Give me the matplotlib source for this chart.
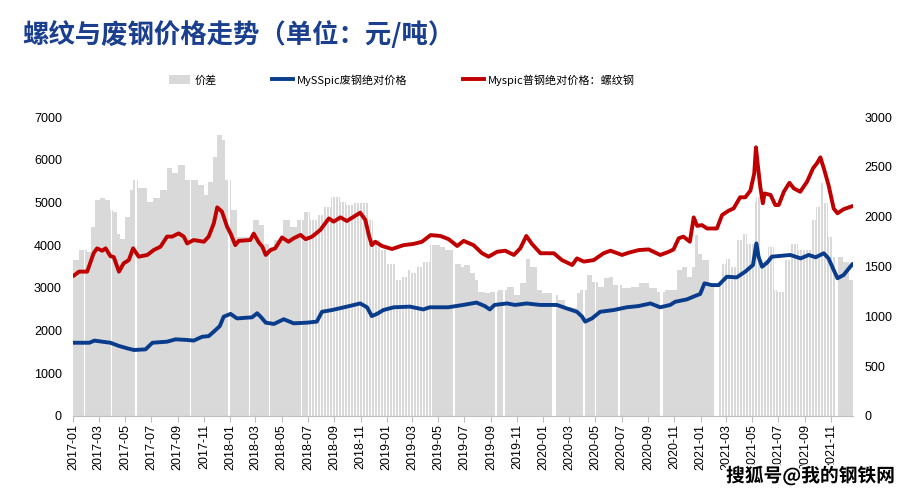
import matplotlib

matplotlib.use("Agg")

import matplotlib.dates as mdates
import matplotlib.patheffects as pe
import matplotlib.pyplot as plt
import numpy as np
import pandas as pd
from matplotlib.lines import Line2D
from matplotlib.patches import Patch

plt.rcParams["font.family"] = ["Liberation Sans", "Noto Sans CJK SC", "DejaVu Sans"]

# Myspic 普钢绝对价格：螺纹钢 (left axis, 元/吨)
REBAR_DATES = [
    "2017-01-01", "2017-01-14", "2017-02-02", "2017-02-17", "2017-02-25", "2017-03-09",
    "2017-03-17", "2017-03-28", "2017-04-05", "2017-04-17", "2017-04-28", "2017-05-10",
    "2017-05-20", "2017-06-02", "2017-06-22", "2017-07-07", "2017-07-23", "2017-08-07",
    "2017-08-19", "2017-09-03", "2017-09-15", "2017-09-23", "2017-10-08", "2017-11-01",
    "2017-11-12", "2017-11-24", "2017-12-02", "2017-12-13", "2017-12-25", "2018-01-02",
    "2018-01-13", "2018-01-21", "2018-02-17", "2018-02-25", "2018-03-09", "2018-03-17",
    "2018-03-25", "2018-04-05", "2018-04-16", "2018-05-02", "2018-05-17", "2018-05-29",
    "2018-06-14", "2018-06-26", "2018-07-11", "2018-07-30", "2018-08-19", "2018-08-30",
    "2018-09-15", "2018-09-30", "2018-10-16", "2018-10-31", "2018-11-12", "2018-11-20",
    "2018-11-27", "2018-12-05", "2018-12-21", "2019-01-13", "2019-02-09", "2019-03-05",
    "2019-03-24", "2019-04-13", "2019-05-06", "2019-05-25", "2019-06-14", "2019-06-29",
    "2019-07-22", "2019-08-11", "2019-08-26", "2019-09-15", "2019-10-04", "2019-10-24",
    "2019-11-08", "2019-11-22", "2019-12-05", "2019-12-25", "2020-01-25", "2020-02-13",
    "2020-03-08", "2020-03-19", "2020-04-04", "2020-04-27", "2020-05-20", "2020-06-05",
    "2020-07-02", "2020-07-18", "2020-08-10", "2020-09-02", "2020-09-29", "2020-10-19",
    "2020-10-30", "2020-11-11", "2020-11-22", "2020-12-07", "2020-12-16", "2020-12-24",
    "2021-01-04", "2021-01-16", "2021-02-08", "2021-02-20", "2021-03-07", "2021-03-19",
    "2021-04-03", "2021-04-15", "2021-04-27", "2021-05-06", "2021-05-10", "2021-05-14",
    "2021-05-20", "2021-05-26", "2021-05-30", "2021-06-13", "2021-06-24", "2021-07-02",
    "2021-07-14", "2021-07-27", "2021-08-06", "2021-08-21", "2021-09-06", "2021-09-20",
    "2021-09-29", "2021-10-07", "2021-10-15", "2021-10-26", "2021-11-07", "2021-11-16",
    "2021-11-30", "2021-12-21",
]
REBAR_PRICE = [
    3280, 3380, 3380, 3810, 3925, 3870, 3925, 3745, 3720, 3380, 3575, 3650,
    3925, 3730, 3770, 3885, 3965, 4200, 4200, 4275, 4200, 4040, 4120, 4080,
    4200, 4510, 4885, 4785, 4430, 4275, 4000, 4100, 4120, 4270, 4060, 3965,
    3770, 3885, 3925, 4180, 4080, 4160, 4240, 4140, 4200, 4355, 4625, 4550,
    4650, 4565, 4665, 4760, 4590, 4240, 4000, 4080, 3980, 3910, 4000, 4030,
    4080, 4235, 4215, 4140, 3980, 4100, 4000, 3810, 3730, 3845, 3870, 3770,
    3925, 4215, 4030, 3810, 3810, 3650, 3535, 3690, 3615, 3650, 3810, 3870,
    3770, 3825, 3885, 3900, 3770, 3845, 3900, 4160, 4200, 4080, 4650, 4450,
    4470, 4390, 4390, 4705, 4805, 4860, 5120, 5120, 5275, 5680, 6290, 5900,
    5370, 4980, 5210, 5175, 4940, 4940, 5250, 5460, 5330, 5250, 5485, 5800,
    5915, 6055, 5800, 5410, 4860, 4745, 4840, 4915,
]

# MySSpic 废钢绝对价格 (left axis, 元/吨)
SCRAP_DATES = [
    "2017-01-01", "2017-02-07", "2017-02-19", "2017-03-09", "2017-03-28", "2017-04-17",
    "2017-05-06", "2017-05-22", "2017-06-18", "2017-07-04", "2017-08-07", "2017-08-27",
    "2017-09-23", "2017-10-08", "2017-10-28", "2017-11-12", "2017-11-24", "2017-12-08",
    "2017-12-17", "2018-01-02", "2018-01-17", "2018-02-21", "2018-03-05", "2018-03-13",
    "2018-03-25", "2018-04-13", "2018-05-06", "2018-05-29", "2018-06-29", "2018-07-22",
    "2018-08-03", "2018-08-26", "2018-09-30", "2018-10-31", "2018-11-16", "2018-11-27",
    "2018-12-09", "2018-12-24", "2019-01-17", "2019-02-24", "2019-03-27", "2019-04-11",
    "2019-05-24", "2019-06-28", "2019-07-29", "2019-08-17", "2019-08-29", "2019-09-09",
    "2019-10-08", "2019-10-27", "2019-11-23", "2019-12-24", "2020-02-01", "2020-02-24",
    "2020-03-19", "2020-03-31", "2020-04-07", "2020-04-23", "2020-05-12", "2020-06-12",
    "2020-07-13", "2020-08-10", "2020-09-06", "2020-09-29", "2020-10-22", "2020-11-03",
    "2020-11-30", "2020-12-24", "2020-12-31", "2021-01-10", "2021-01-27", "2021-02-12",
    "2021-03-03", "2021-03-26", "2021-04-15", "2021-05-03", "2021-05-11", "2021-05-16",
    "2021-05-24", "2021-06-05", "2021-06-16", "2021-07-29", "2021-08-22", "2021-09-10",
    "2021-09-26", "2021-10-15", "2021-10-26", "2021-11-07", "2021-11-16", "2021-11-30",
    "2021-12-21",
]
SCRAP_PRICE = [
    1715, 1715, 1765, 1740, 1715, 1640, 1585, 1545, 1560, 1715, 1740, 1795,
    1780, 1765, 1855, 1870, 1975, 2105, 2325, 2390, 2285, 2310, 2405, 2325,
    2185, 2155, 2265, 2170, 2185, 2210, 2440, 2480, 2560, 2635, 2545, 2340,
    2390, 2480, 2545, 2560, 2495, 2545, 2545, 2600, 2655, 2575, 2495, 2600,
    2635, 2600, 2635, 2600, 2600, 2520, 2440, 2325, 2210, 2285, 2440, 2480,
    2545, 2575, 2635, 2545, 2600, 2675, 2730, 2830, 2855, 3105, 3065, 3065,
    3260, 3245, 3380, 3535, 4040, 3730, 3495, 3590, 3730, 3770, 3690, 3770,
    3715, 3810, 3690, 3420, 3225, 3300, 3560,
]

# 价差 (right axis, 元/吨)
SPREAD_DATES = [
    "2017-01-01", "2017-01-14", "2017-02-02", "2017-02-12", "2017-02-20", "2017-03-04",
    "2017-03-16", "2017-03-27", "2017-04-04", "2017-04-12", "2017-04-20", "2017-05-01",
    "2017-05-13", "2017-05-19", "2017-06-01", "2017-06-21", "2017-07-06", "2017-07-22",
    "2017-08-06", "2017-08-18", "2017-09-02", "2017-09-18", "2017-10-07", "2017-10-19",
    "2017-10-31", "2017-11-11", "2017-11-23", "2017-12-01", "2017-12-12", "2017-12-20",
    "2018-01-02", "2018-01-16", "2018-02-09", "2018-02-24", "2018-03-09", "2018-03-20",
    "2018-04-01", "2018-04-14", "2018-05-05", "2018-05-21", "2018-06-05", "2018-06-21",
    "2018-07-06", "2018-07-22", "2018-08-06", "2018-08-25", "2018-09-14", "2018-09-29",
    "2018-10-15", "2018-11-03", "2018-11-18", "2018-11-30", "2018-12-16", "2018-12-31",
    "2019-01-20", "2019-02-04", "2019-02-16", "2019-02-27", "2019-03-11", "2019-03-26",
    "2019-04-11", "2019-05-04", "2019-05-16", "2019-06-08", "2019-06-24", "2019-07-01",
    "2019-07-13", "2019-07-25", "2019-08-02", "2019-08-17", "2019-08-29", "2019-09-17",
    "2019-10-08", "2019-10-24", "2019-11-08", "2019-11-22", "2019-12-01", "2019-12-17",
    "2019-12-28", "2020-01-20", "2020-02-03", "2020-02-21", "2020-03-08", "2020-03-19",
    "2020-03-27", "2020-04-11", "2020-04-23", "2020-05-08", "2020-05-20", "2020-06-01",
    "2020-06-12", "2020-07-03", "2020-07-22", "2020-08-10", "2020-09-02", "2020-09-21",
    "2020-10-09", "2020-10-22", "2020-11-07", "2020-11-18", "2020-11-30", "2020-12-11",
    "2020-12-19", "2020-12-27", "2021-01-04", "2021-01-20", "2021-02-05", "2021-02-18",
    "2021-03-01", "2021-03-12", "2021-03-27", "2021-04-08", "2021-04-19", "2021-05-05",
    "2021-05-11", "2021-05-21", "2021-06-06", "2021-06-22", "2021-06-29", "2021-07-15",
    "2021-07-30", "2021-08-15", "2021-08-30", "2021-09-15", "2021-09-27", "2021-10-08",
    "2021-10-16", "2021-10-24", "2021-11-05", "2021-11-18", "2021-11-29", "2021-12-12",
]
SPREAD_VALUE = [
    1570, 1665, 1650, 1900, 2165, 2190, 2165, 2065, 2050, 1830, 1780, 2000,
    2265, 2365, 2285, 2150, 2185, 2265, 2485, 2435, 2515, 2365, 2365, 2315,
    2215, 2350, 2600, 2820, 2770, 2365, 2065, 1800, 1800, 1965, 1915, 1730,
    1700, 1765, 1965, 1900, 1965, 2050, 1965, 2015, 2100, 2200, 2150, 2115,
    2135, 2135, 1965, 1765, 1665, 1530, 1365, 1395, 1465, 1430, 1500, 1550,
    1715, 1700, 1665, 1530, 1500, 1515, 1430, 1365, 1245, 1230, 1245, 1265,
    1295, 1215, 1330, 1580, 1500, 1265, 1230, 1215, 1165, 1095, 1080, 1230,
    1265, 1415, 1345, 1295, 1380, 1395, 1315, 1280, 1295, 1330, 1280, 1245,
    1265, 1265, 1465, 1500, 1395, 1500, 1815, 1630, 1565, 1300, 1300, 1530,
    1580, 1500, 1765, 1830, 1730, 2150, 2200, 1565, 1700, 1265, 1245, 1565,
    1730, 1665, 1665, 1965, 2100, 2335, 2135, 1800, 1600, 1600, 1550, 1365,
]
SPREAD_END = "2021-12-22"

# days without quotes (holidays) and weekly-quote stretches in the spread series
HOLIDAY_GAPS = [
    ("2017-01-25", "2017-01-29"), ("2017-03-30", "2017-04-02"), ("2017-05-25", "2017-05-29"),
    ("2017-09-29", "2017-10-03"), ("2017-12-27", "2017-12-31"), ("2018-02-13", "2018-02-17"),
    ("2018-04-01", "2018-04-05"), ("2018-06-14", "2018-06-18"), ("2019-06-04", "2019-06-08"),
    ("2019-09-11", "2019-09-15"), ("2019-09-28", "2019-10-03"), ("2020-01-21", "2020-01-31"),
    ("2020-04-02", "2020-04-06"), ("2020-04-29", "2020-05-03"), ("2020-06-23", "2020-06-27"),
    ("2020-09-29", "2020-10-05"), ("2021-02-02", "2021-02-14"), ("2021-11-12", "2021-11-16"),
]
WEEKLY_PERIODS = [("2018-07-01", "2019-04-20"), ("2021-02-18", "2021-11-12")]

X_TICKS = pd.date_range("2017-01-01", "2021-11-01", freq="2MS")

GRAY = "#D9D9D9"
BLUE = "#0A3C8C"
RED = "#C00000"
TITLE_BLUE = "#1B3F8F"
CJK = ["Noto Sans CJK SC", "DejaVu Sans"]

fig = plt.figure(figsize=(9.16, 4.96), dpi=100)
ax = fig.add_axes([0.0797, 0.1613, 0.8515, 0.6028])
ax2 = ax.twinx()
# lines axis above the bar axis
ax.set_zorder(ax2.get_zorder() + 1)
ax.patch.set_visible(False)

# spread bars, each bar runs up to the next reading
spread_x = mdates.date2num(pd.to_datetime(SPREAD_DATES))
widths = np.diff(np.append(spread_x, mdates.date2num(pd.Timestamp(SPREAD_END))))
ax2.bar(spread_x, SPREAD_VALUE, width=widths, align="edge", color=GRAY, linewidth=0)
for start, end in HOLIDAY_GAPS:
    ax2.axvspan(pd.Timestamp(start), pd.Timestamp(end), color="white", linewidth=0)
for start, end in WEEKLY_PERIODS:
    for d in pd.date_range(start, end, freq="7D"):
        ax2.axvline(d, color="white", linewidth=0.7)

ax.plot(pd.to_datetime(SCRAP_DATES), SCRAP_PRICE, color=BLUE, linewidth=2.8,
        solid_joinstyle="round", solid_capstyle="round")
ax.plot(pd.to_datetime(REBAR_DATES), REBAR_PRICE, color=RED, linewidth=2.8,
        solid_joinstyle="round", solid_capstyle="round")

ax.set_xlim(pd.Timestamp("2016-12-31"), pd.Timestamp(SPREAD_END))
ax.set_ylim(0, 7000)
ax2.set_ylim(0, 3000)
ax.set_yticks(range(0, 7001, 1000))
ax2.set_yticks(range(0, 3001, 500))

ax.set_xticks(X_TICKS)
ax.set_xticklabels([d.strftime("%Y-%m") for d in X_TICKS], rotation=90, fontsize=9)
ax.tick_params(axis="x", length=4, color="#BFBFBF", pad=2)
ax.tick_params(axis="y", length=0, pad=8, labelsize=9)
ax2.tick_params(axis="y", length=0, pad=8, labelsize=9)

for a in (ax, ax2):
    for side in ("top", "left", "right"):
        a.spines[side].set_visible(False)
ax2.spines["bottom"].set_visible(False)
ax.spines["bottom"].set_color("#BFBFBF")

fig.text(0.024, 0.929, "螺纹与废钢价格走势（单位：元/吨）", fontsize=19, fontweight="bold",
         color=TITLE_BLUE, family=CJK, va="center", ha="left")

handles = [
    Patch(facecolor=GRAY, edgecolor="none"),
    Line2D([], [], color=BLUE, linewidth=2.8),
    Line2D([], [], color=RED, linewidth=2.8),
]
labels = ["价差", "MySSpic废钢绝对价格", "Myspic普钢绝对价格：螺纹钢"]
fig.legend(handles, labels, loc="center left", bbox_to_anchor=(0.174, 0.839), ncol=3,
           frameon=False, prop={"family": CJK, "size": 8}, handlelength=1.9,
           handleheight=0.9, handletextpad=0.35, columnspacing=5.0)

fig.text(0.977, 0.04, "搜狐号@我的钢铁网", fontsize=13.5, fontweight="bold", color="black",
         family=CJK, ha="right", va="center",
         path_effects=[pe.withStroke(linewidth=3, foreground="white")])

fig.savefig("out.png", dpi=100)
